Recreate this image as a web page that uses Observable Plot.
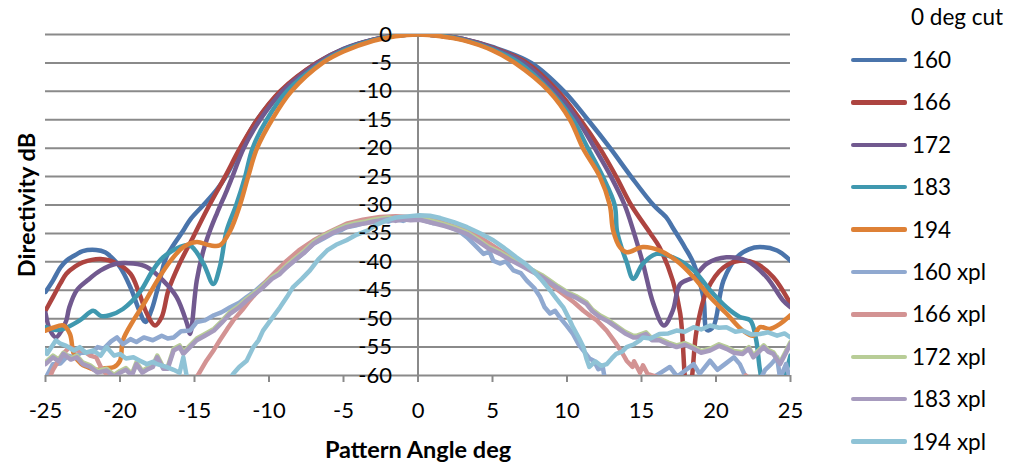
<!DOCTYPE html>
<html><head><meta charset="utf-8">
<script src="https://cdn.jsdelivr.net/npm/d3@7"></script>
<script src="https://cdn.jsdelivr.net/npm/@observablehq/plot@0.6"></script>
<style>
body{margin:0;background:#fff;font-family:Lato,"Open Sans",sans-serif;}
#wrap{position:relative;width:1023px;height:464px;overflow:hidden;}
#legend{position:absolute;left:0;top:0;width:1023px;height:464px;pointer-events:none;}
.item{position:absolute;left:851px;display:flex;align-items:center;font-size:22.5px;line-height:24px;color:#000;}
.swatch{width:56px;height:4.5px;border-radius:2px;margin-right:5px;}
</style></head><body>
<div id="wrap"><div id="chart"></div><div id="legend"></div></div>
<script>
// ---- data: [angle deg, directivity dB] ----
const legendTitle = "0 deg cut";
const seriesNames = ["160","166","172","183","194","160 xpl","166 xpl","172 xpl","183 xpl","194 xpl"];
const seriesColors = ["#4A74AB","#AD4440","#71598F","#3F98AF","#DE8136","#90A9D0","#D39393","#B8CD97","#A79BBE","#8FC3D6"];
const xTicks = [-25,-20,-15,-10,-5,0,5,10,15,20,25];
const yTicks = [0,-5,-10,-15,-20,-25,-30,-35,-40,-45,-50,-55,-60];

const s160 = [[-25,-45.3],[-24.5,-43.3],[-24,-41],[-23.6,-39.8],[-23,-38.8],[-22.5,-38.1],[-21.6,-37.9],[-21,-38.3],[-20.7,-38.9],[-20,-40.9],[-19.3,-44.5],[-18.7,-48.6],[-18.3,-50.6],[-17.9,-48.6],[-17.5,-45],[-16.9,-39.2],[-16.4,-37],[-15.75,-34.5],[-15.3,-32.6],[-14.4,-30],[-13.5,-27.3],[-12.9,-25],[-12,-20.5],[-10.8,-15],[-9.2,-10],[-6.8,-5],[-5,-2.5],[-3,-0.9],[-1.5,-0.2],[0,0],[1.5,-0.2],[3,-0.8],[5,-2.2],[7.6,-5],[9.8,-10],[11.4,-15],[12.9,-20],[14.3,-25],[15.8,-30],[16.7,-32.3],[17.1,-34],[17.9,-37.4],[18.5,-40.3],[19.15,-46.2],[19.4,-52],[19.8,-51.5],[20.5,-43.3],[21.4,-39.2],[22.2,-37.8],[22.95,-37.4],[24.1,-38],[25,-39.8]];
const s166 = [[-25,-48.6],[-24.5,-46.2],[-24,-43.8],[-23.6,-42.1],[-23,-40.8],[-22.5,-40.1],[-21.3,-39.5],[-20.2,-40.3],[-19.3,-42.1],[-18.7,-45.6],[-18.2,-49.1],[-17.65,-51.2],[-17.2,-49.7],[-16.75,-45],[-16,-40.3],[-15.1,-35.7],[-14.2,-31],[-12.95,-25],[-11.95,-20],[-10.8,-15],[-9.26,-10],[-6.8,-5],[-5,-2.6],[-3,-0.9],[-1.5,-0.2],[0,0],[1.5,-0.2],[3,-0.8],[5,-2.3],[7.3,-5],[9.4,-10],[10.9,-15],[12.2,-20],[13.3,-25],[14.3,-30],[15.6,-35],[16.2,-37.4],[17.1,-43.3],[17.6,-49.1],[17.9,-60],[18.1,-66],[18.4,-60],[18.7,-52],[19.4,-45],[20.5,-41],[21.6,-39.8],[22.7,-40.3],[23.85,-42.7],[25,-47.4]];
const s172 = [[-25,-49],[-24.7,-52],[-24.3,-53.3],[-23.9,-52],[-23.6,-50.3],[-23.4,-48],[-22.9,-45],[-22.2,-43.3],[-21.3,-41.5],[-20.2,-40.3],[-19.1,-40.3],[-18.2,-40.9],[-17.1,-43.3],[-16.2,-46.2],[-15.5,-50.9],[-15.3,-52.7],[-14.85,-43.3],[-14.4,-38],[-13.96,-34.5],[-13.5,-31.5],[-12.84,-27.5],[-12.5,-25.3],[-11.7,-20],[-10.6,-15],[-9.1,-10],[-6.7,-5],[-5,-2.6],[-3,-0.9],[-1.5,-0.2],[0,0],[1.5,-0.2],[3,-0.8],[5,-2.4],[7.1,-5],[9.2,-10],[10.7,-15],[11.86,-20],[12.95,-25],[13.87,-30],[14.45,-34.5],[15.1,-40.3],[15.8,-47.4],[16.5,-51.2],[17.1,-48.6],[17.6,-43.9],[18.5,-42.7],[19.4,-40.3],[20.7,-39.2],[22.05,-39.8],[23.4,-42.7],[24.5,-46.8],[25,-48]];
const s183 = [[-25,-51.5],[-24.3,-52],[-23.8,-51.8],[-22.7,-50.3],[-21.8,-48.6],[-21.3,-49.5],[-20.7,-49.4],[-19.8,-48.3],[-18.66,-45.3],[-17.8,-41.5],[-17.1,-39.2],[-16,-37.4],[-15.3,-37.1],[-14.4,-40.3],[-13.74,-43.9],[-13.3,-40.9],[-12.84,-34.5],[-12.2,-30],[-11.6,-25],[-11.1,-20],[-10.15,-15],[-8.8,-10],[-6.5,-5],[-5,-2.8],[-3,-1],[-1.5,-0.2],[0,0],[1.5,-0.2],[3,-0.9],[5,-2.6],[6.8,-5],[8.9,-10],[10.4,-15],[11.4,-20],[12.4,-25],[13.2,-30],[13.35,-34.5],[13.65,-37.4],[14,-40],[14.45,-43],[15.1,-40.3],[16,-38.6],[17.1,-39.2],[18.5,-41.5],[19.6,-45],[20.7,-48],[21.6,-49.7],[22.3,-50.3],[22.7,-53.8],[22.95,-59],[23.3,-63],[24,-64],[24.5,-61],[25,-56.5]];
const s194 = [[-25,-52.1],[-24.5,-51.6],[-23.8,-51.2],[-23.36,-52.7],[-23.1,-56.2],[-22.6,-58],[-22.2,-58.5],[-21.6,-59],[-21,-58.7],[-20.4,-58.5],[-20,-57.4],[-19.8,-53.8],[-19.1,-50.3],[-18.4,-47.4],[-17.5,-43.3],[-16.6,-39.8],[-15.75,-37.4],[-14.85,-36.5],[-13.96,-37.1],[-13.3,-37.1],[-12.6,-34.5],[-11.95,-30],[-11.4,-25],[-10.8,-20],[-9.8,-15],[-8.5,-10],[-6.4,-5],[-5,-3],[-3,-1.1],[-1.5,-0.3],[0,0],[1.5,-0.3],[3,-1],[5,-2.8],[6.5,-5],[8.8,-10],[10.2,-15],[11.07,-20],[12.2,-25],[12.87,-30],[13.1,-34.5],[13.55,-37.4],[14,-38.3],[15.1,-37.4],[16.2,-38],[17.35,-39.8],[18.5,-42.7],[19.6,-46.2],[20.7,-49.1],[21.8,-52.1],[22.5,-53],[22.95,-51.5],[23.6,-51.8],[24.3,-50.9],[25,-49.4]];

const x160 = [[-25,-60.5],[-24.5,-58],[-24,-57.9],[-23.5,-56.5],[-23.1,-56.8],[-22.5,-55.8],[-22,-56.2],[-21.5,-55],[-21.1,-55.3],[-20.6,-54],[-20.2,-53.3],[-19.8,-54.5],[-19.3,-53.6],[-18.9,-54.1],[-18.4,-53.3],[-17.8,-53.8],[-17.2,-53],[-16.8,-53.5],[-16.4,-53.3],[-15.9,-52.2],[-15.3,-52.1],[-14.85,-50.6],[-14.3,-50.3],[-13.7,-49.4],[-13.2,-48.9],[-12.6,-48],[-12,-47.2],[-11.5,-46.2],[-11,-45.3],[-10.4,-43.9],[-9.8,-42.6],[-9.3,-42],[-8.8,-40.9],[-8.2,-39.6],[-7.6,-38.3],[-7,-36.8],[-6.4,-36],[-5.8,-35.1],[-5.3,-34.6],[-4.8,-33.9],[-4.2,-33.6],[-3.5,-33.1],[-3,-33],[-2.5,-32.7],[-2,-32.9],[-1.5,-32.5],[-1,-32.8],[-0.5,-32.3],[0,-32.4],[0.5,-32.8],[1,-33.2],[1.5,-33.1],[2.15,-33.9],[2.7,-34.5],[3.3,-35.7],[3.8,-37],[4.4,-38.6],[4.8,-38.2],[5.05,-39.8],[5.5,-40.3],[5.9,-39.9],[6.4,-41.5],[6.9,-42],[7.3,-43.3],[7.8,-44.6],[8.2,-46.2],[8.5,-48],[8.86,-49.1],[9.2,-48.6],[9.5,-49.7],[10,-51.3],[10.4,-52.7],[10.8,-54.6],[11.1,-55.6],[11.5,-57],[11.8,-57.4],[12.1,-58.9],[12.4,-58.5],[12.6,-61.5],[13,-63],[14,-64],[15,-62],[15.8,-60.3],[16.3,-59.5],[16.9,-58.5],[17.4,-60.2],[18,-59],[18.5,-58],[18.9,-59.7],[19.6,-57.4],[20.1,-59],[20.6,-58],[21.2,-56.8],[21.6,-58],[22,-60.3],[22.5,-61],[23,-60.5],[23.3,-59],[23.7,-58],[24.1,-56.8],[24.3,-60.5],[24.7,-58],[25,-61]];
const x166 = [[-25,-62],[-24.5,-59],[-24,-56.8],[-23.4,-55],[-23,-55.6],[-22.5,-55.6],[-22,-56.5],[-21.6,-56.8],[-21.2,-59],[-20.6,-60.5],[-20,-62],[-18,-64],[-16,-63],[-14.85,-60.3],[-14.2,-57.4],[-13.7,-55.5],[-13.3,-53.8],[-12.8,-51.8],[-12.4,-50.3],[-11.8,-48.5],[-11.3,-46.8],[-10.7,-45],[-10.15,-43.3],[-9.5,-41.6],[-8.8,-39.8],[-8,-38],[-7,-36.2],[-6,-34.8],[-4.8,-33.3],[-3.7,-32.6],[-2.55,-32.1],[-1.5,-32],[-0.5,-32.1],[0.1,-32.2],[1,-32.6],[2,-33.4],[3.3,-34.5],[4.4,-36.1],[5.5,-38],[6.6,-39.8],[7.7,-41.5],[8.3,-42.6],[8.86,-43.9],[9.4,-45],[10,-46.2],[10.5,-47.2],[11.1,-48.6],[11.6,-49.6],[12,-50.3],[12.66,-52.1],[13.3,-54.4],[13.7,-56],[14,-57.4],[14.4,-58.5],[14.5,-57.5],[14.7,-58.5],[14.9,-59.5],[15.1,-58.2],[15.4,-59.7],[16.1,-60.3],[16.5,-61],[17,-63],[20,-63],[21.5,-61.5],[22,-60],[22.4,-61],[23,-63],[25,-63]];
const x172 = [[-25,-57.7],[-24.5,-56.5],[-24.1,-57.2],[-23.8,-56],[-23.3,-57],[-22.9,-56.5],[-22.5,-57.7],[-22,-58.2],[-21.5,-59.2],[-20.9,-58.8],[-20.4,-59.9],[-20,-59.2],[-19.6,-58.7],[-19.2,-59.7],[-18.9,-57.7],[-18.5,-59.2],[-18.2,-58.7],[-17.8,-58.2],[-17.5,-56.5],[-17.1,-58.5],[-16.8,-58.5],[-16.4,-55.3],[-16,-54.7],[-15.75,-55.9],[-15.3,-54.7],[-14.85,-53.5],[-14.3,-52.7],[-13.7,-51.8],[-13.2,-50.5],[-12.6,-48.8],[-12,-47.7],[-11.5,-46.5],[-11,-45.5],[-10.4,-44.2],[-9.8,-42.7],[-9.3,-41.9],[-8.8,-40.6],[-8.2,-39.3],[-7.6,-38],[-7,-36.5],[-6.4,-35.5],[-5.8,-34.7],[-5.3,-34.1],[-4.8,-33.6],[-4.2,-33.2],[-3.5,-32.9],[-3,-32.6],[-2.55,-32.4],[-2,-32.2],[-1.5,-32.5],[-1,-32.2],[-0.5,-32.4],[0.1,-32.3],[0.6,-32.6],[1.2,-33],[1.8,-33.4],[2.5,-34],[3.3,-34.8],[4,-36],[4.7,-37.3],[5.5,-38.3],[6.2,-39.4],[7,-40.5],[7.7,-41.5],[8.3,-42.3],[8.86,-43.3],[9.4,-44.3],[10,-45.3],[10.6,-46],[11.3,-47.1],[11.7,-48.4],[12.2,-49.4],[12.7,-50.1],[13.3,-51.2],[13.9,-52.3],[14.45,-53],[14.7,-53],[15.3,-52.4],[15.7,-53.5],[16.2,-53.5],[16.8,-54.2],[17.35,-54.7],[17.9,-54.3],[18.5,-55],[19,-55.7],[19.6,-55.3],[20.2,-54.5],[20.7,-55],[21.2,-55.7],[21.8,-55.9],[22.2,-55],[22.5,-56.5],[23.2,-54.7],[23.5,-55.5],[23.85,-55.9],[24.3,-57.7],[24.7,-55.7],[25,-54.1]];
const x183 = [[-25,-58],[-24.5,-56.8],[-24.1,-57.5],[-23.8,-56.2],[-23.3,-57.2],[-22.9,-56.8],[-22.5,-58],[-22,-58.5],[-21.5,-59.5],[-20.9,-59.1],[-20.4,-60.2],[-20,-59.5],[-19.6,-59],[-19.2,-60],[-18.9,-58],[-18.5,-59.5],[-18.2,-59],[-17.8,-58.5],[-17.5,-56.8],[-17.1,-58.8],[-16.8,-58.8],[-16.4,-55.6],[-16,-55],[-15.75,-56.2],[-15.3,-55],[-14.85,-53.8],[-14.3,-53],[-13.7,-52.1],[-13.2,-50.8],[-12.6,-49.1],[-12,-48],[-11.5,-46.8],[-11,-45.8],[-10.4,-44.5],[-9.8,-43],[-9.3,-42.2],[-8.8,-40.9],[-8.2,-39.6],[-7.6,-38.3],[-7,-36.8],[-6.4,-35.8],[-5.8,-35],[-5.3,-34.4],[-4.8,-33.9],[-4.2,-33.5],[-3.5,-33.2],[-3,-32.9],[-2.55,-32.7],[-2,-32.5],[-1.5,-32.8],[-1,-32.5],[-0.5,-32.7],[0.1,-32.6],[0.6,-32.9],[1.2,-33.3],[1.8,-33.7],[2.5,-34.3],[3.3,-35.1],[4,-36.3],[4.7,-37.6],[5.5,-38.6],[6.2,-39.7],[7,-40.8],[7.7,-41.8],[8.3,-42.6],[8.86,-43.6],[9.4,-44.6],[10,-45.6],[10.6,-46.3],[11.3,-47.4],[11.7,-48.7],[12.2,-49.7],[12.7,-50.4],[13.3,-51.5],[13.9,-52.6],[14.45,-53.3],[14.7,-53.3],[15.3,-52.7],[15.7,-53.8],[16.2,-53.8],[16.8,-54.5],[17.35,-55],[17.9,-54.6],[18.5,-55.3],[19,-56],[19.6,-55.6],[20.2,-54.8],[20.7,-55.3],[21.2,-56],[21.8,-56.2],[22.2,-55.3],[22.5,-56.8],[23.2,-55],[23.5,-55.8],[23.85,-56.2],[24.3,-58],[24.7,-56],[25,-54.4]];
const x194 = [[-25,-55.5],[-24.9,-56.2],[-24.3,-53.8],[-24,-54.4],[-23.6,-54.8],[-23.1,-55.6],[-22.7,-55],[-22.3,-56],[-21.8,-55.6],[-21.3,-56.5],[-20.9,-55],[-20.4,-56.5],[-20,-56.2],[-19.6,-57],[-19.1,-56.8],[-18.66,-57.4],[-18.2,-58],[-17.8,-57.6],[-17.5,-58],[-16.9,-58.5],[-16.4,-59],[-16,-59.5],[-15.75,-56.8],[-15.5,-60.5],[-15.2,-62],[-14,-64],[-13,-62],[-12.4,-59.7],[-12,-58.5],[-11.5,-57.4],[-11.05,-55],[-10.7,-53.8],[-10.4,-52.1],[-9.9,-50.3],[-9.26,-48],[-8.8,-46.2],[-8.4,-44.5],[-7.8,-43],[-7.25,-41.5],[-6.7,-39.6],[-6.1,-38],[-5.5,-37],[-4.8,-36.2],[-4.1,-35.2],[-3.4,-34.5],[-2.8,-33.5],[-2.1,-32.7],[-1.5,-32.2],[-0.7,-32],[0.1,-31.8],[0.8,-31.9],[1.5,-32.3],[2.4,-33],[3.3,-33.9],[4.2,-35],[5.05,-36.2],[5.8,-37.6],[6.6,-39.2],[7.2,-40.3],[7.7,-41.5],[8.3,-43.2],[8.86,-45],[9.3,-46.5],[9.75,-48],[10.1,-49.8],[10.4,-51.5],[10.8,-53.4],[11.1,-55],[11.3,-57],[11.5,-58.5],[11.9,-57.5],[12.3,-58.3],[12.66,-58],[13,-57],[13.3,-56.2],[13.7,-55.8],[14,-55],[14.5,-54.5],[14.9,-53.8],[15.1,-53.3],[15.6,-53.5],[16.2,-52.7],[16.8,-52.6],[17.35,-52.1],[17.9,-52.3],[18.5,-51.5],[19,-51.9],[19.6,-51.2],[20.2,-51.6],[20.7,-51.5],[21.3,-52.3],[21.8,-52.1],[22.4,-52.8],[22.95,-52.7],[23.5,-52.4],[24.1,-53],[24.6,-52.6],[25,-53.3]];

const seriesData = [s160, s166, s172, s183, s194, x160, x166, x172, x183, x194];

// ---- chart ----
const grid = "#8a8a8a";
const lineMarks = seriesData.map((data, i) => Plot.line(data, {
  x: d => d[0], y: d => d[1], stroke: seriesColors[i], strokeWidth: 4.5,
  curve: i < 5 ? "catmull-rom" : "linear", clip: true,
  strokeLinejoin: "round", strokeLinecap: "round"
}));

const chart = Plot.plot({
  width: 1023, height: 464,
  marginLeft: 45, marginRight: 233, marginTop: 34, marginBottom: 89,
  x: {domain: [-25, 25]},
  y: {domain: [-60, 0]},
  style: {fontFamily: "Lato, 'Open Sans', sans-serif", fontSize: "21px", color: "#000", background: "white"},
  marks: [
    Plot.ruleY(yTicks, {stroke: grid, strokeWidth: 2}),
    Plot.ruleX([0], {stroke: grid, strokeWidth: 2}),
    Plot.axisX({ticks: xTicks, tickSize: 7, tickPadding: 20, stroke: grid, strokeWidth: 2, strokeOpacity: 1,
      fill: "#000", label: null, tickFormat: d => String(d), fontSize: 22}),
    Plot.axisY({ticks: [], label: null}),
    ...lineMarks,
    Plot.text(yTicks, {x: 0, y: d => d, text: d => String(d), textAnchor: "end", dx: -26, fill: "#000", fontSize: 22}),
    Plot.text(["Directivity dB"], {frameAnchor: "left", textAnchor: "middle", lineAnchor: "middle", rotate: -90, dx: -18, fontWeight: "bold", fontSize: 23.5, fill: "#000"}),
    Plot.text(["Pattern Angle deg"], {frameAnchor: "bottom", textAnchor: "middle", lineAnchor: "middle", dy: 75, fontWeight: "bold", fontSize: 23.5, fill: "#000"})
  ]
});
document.getElementById("chart").appendChild(chart);

// ---- legend ----
const legend = d3.select("#legend");
legend.append("div").attr("class", "item").style("left", "911px").style("top", "5px").text(legendTitle);
seriesNames.forEach((name, i) => {
  const it = legend.append("div").attr("class", "item").style("top", (48 + i * 42.4) + "px");
  it.append("div").attr("class", "swatch").style("background", seriesColors[i]);
  it.append("span").text(name);
});
</script>
</body></html>
